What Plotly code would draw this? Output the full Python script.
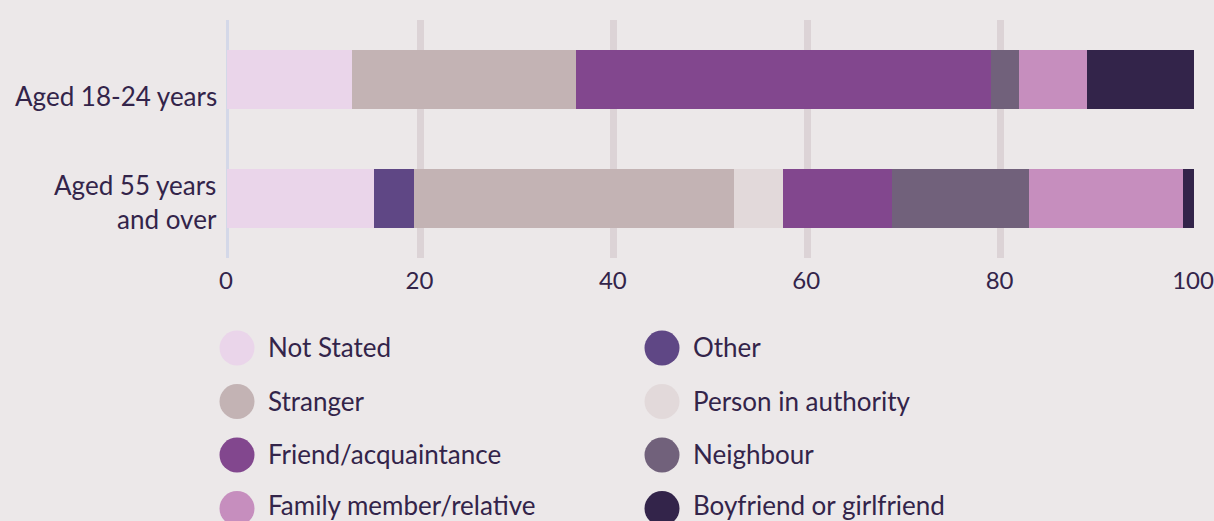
import plotly.graph_objects as go

categories = ["Aged 18-24 years", "Aged 55 years<br>and over"]
series_names = ["Not Stated", "Other", "Stranger", "Person in authority",
                "Friend/acquaintance", "Neighbour", "Family member/relative",
                "Boyfriend or girlfriend"]
not_stated = [12.9, 15.2]
other = [0, 4.1]
stranger = [23.2, 33.1]
person_in_authority = [0, 5.1]
friend = [42.9, 11.3]
neighbour = [2.9, 14.1]
family = [7.0, 16.0]
boyfriend = [11.2, 1.2]
series_values = [not_stated, other, stranger, person_in_authority,
                 friend, neighbour, family, boyfriend]
colors = ["#ead5ea", "#5f4785", "#c3b3b4", "#e2d9da",
          "#82478e", "#71617b", "#c68ebe", "#33244a"]
x_ticks = [0, 20, 40, 60, 80, 100]
label_yshift = [-16, -3]

TEXT = "#33244a"
BG = "#ece8e9"
FONT = "Lato"
FS = 26

fig = go.Figure()
for name, vals, col in zip(series_names, series_values, colors):
    fig.add_trace(go.Bar(
        y=categories, x=vals, name=name, orientation="h",
        marker=dict(color=col, line=dict(width=0)), showlegend=False,
    ))

W, H = 1214, 521
ml, mr, mt, mb = 227, 20, 20, 263
pw = W - ml - mr
ph = H - mt - mb

def px_to_paper_x(px):
    return (px - ml) / pw

def px_to_paper_y(py):
    return (H - mb - py) / ph

shapes = []
annotations = []

# category labels (y axis)
for cat, ys in zip(categories, label_yshift):
    annotations.append(dict(
        text=cat, xref="paper", yref="y", x=0, y=cat,
        xanchor="right", yanchor="middle", align="right",
        xshift=-9, yshift=ys, showarrow=False, borderpad=0,
        font=dict(family=FONT, size=FS, color=TEXT),
    ))

# legend
col_x = [237, 662]
row_y = [348, 401.5, 455, 508.5]
text_dy = [1, 1, 1, 3]
for i, (name, col) in enumerate(zip(series_names, colors)):
    r, c = divmod(i, 2)
    cx, cy = col_x[c], row_y[r]
    shapes.append(dict(
        type="circle", xref="paper", yref="paper",
        xsizemode="pixel", ysizemode="pixel",
        xanchor=px_to_paper_x(cx), yanchor=px_to_paper_y(cy),
        x0=-17.5, x1=17.5, y0=-17.5, y1=17.5,
        fillcolor=col, line=dict(width=0), layer="above",
    ))
    annotations.append(dict(
        text=name, xref="paper", yref="paper",
        x=px_to_paper_x(cx + 30), y=px_to_paper_y(cy - text_dy[r]),
        xanchor="left", yanchor="middle", showarrow=False,
        borderpad=0,
        font=dict(family=FONT, size=FS, color=TEXT),
    ))

fig.update_layout(
    width=W, height=H, autosize=False,
    margin=dict(l=ml, r=mr, t=mt, b=mb, pad=0, autoexpand=False),
    paper_bgcolor=BG, plot_bgcolor=BG,
    barmode="stack", bargap=0.5,
    font=dict(family=FONT, size=FS, color=TEXT),
    shapes=shapes, annotations=annotations,
    xaxis=dict(
        range=[0, 100], tickvals=x_ticks, showgrid=True,
        gridcolor="#dcd3d6", gridwidth=7,
        zeroline=True, zerolinecolor="#d4d8e8", zerolinewidth=3,
        showline=False, ticks="", ticklabelstandoff=6,
        ticklabelshift=-1,
        ticklabeloverflow="allow", automargin=False,
        tickfont=dict(family=FONT, size=24, color=TEXT),
    ),
    yaxis=dict(
        autorange="reversed", showgrid=False, zeroline=False,
        showline=False, ticks="", showticklabels=False, automargin=False,
    ),
)

fig.write_html(
    "out.html",
    config={"responsive": False, "displayModeBar": False},
    post_script="document.body.style.margin='0';document.body.style.overflow='hidden';",
)
